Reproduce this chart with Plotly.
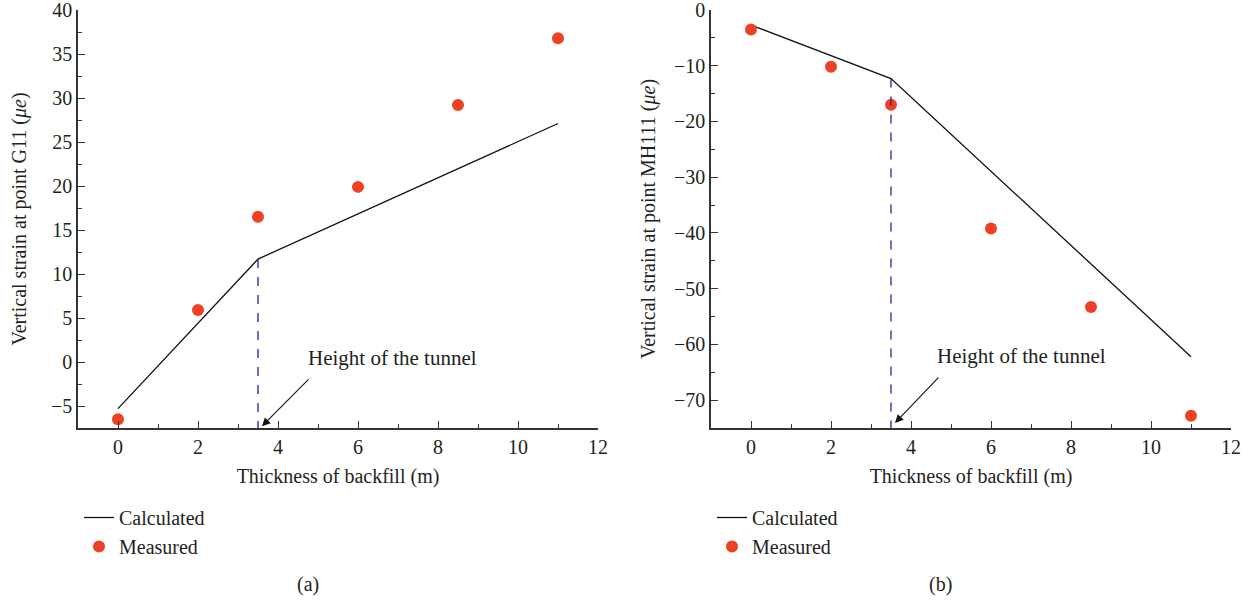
import plotly.graph_objects as go

# ---- data ----
thickness_meas = [0, 2, 3.5, 6, 8.5, 11]
g11_measured = [-6.5, 5.9, 16.5, 19.9, 29.2, 36.8]
thickness_calc = [0, 3.5, 11]
g11_calculated = [-5.3, 11.7, 27.1]

mh111_measured = [-3.5, -10.2, -17.0, -39.2, -53.3, -72.8]
mh111_calculated = [-2.7, -12.3, -62.2]

tunnel_height = 3.5

FONT = "Liberation Serif, Times New Roman, serif"
TXT = "#231f20"
RED = "#EE4124"
BLUE = "#22228f"
FS = 20

fig = go.Figure()

# left panel
fig.add_trace(go.Scatter(x=thickness_calc, y=g11_calculated, mode="lines",
                         line=dict(color="#111111", width=1.3), name="Calculated",
                         xaxis="x", yaxis="y", legend="legend"))
fig.add_trace(go.Scatter(x=thickness_meas, y=g11_measured, mode="markers",
                         marker=dict(color=RED, size=12), name="Measured",
                         xaxis="x", yaxis="y", legend="legend"))
fig.add_trace(go.Scatter(x=[tunnel_height, tunnel_height], y=[g11_calculated[1], -7.5], mode="lines",
                         line=dict(color=BLUE, width=1.3, dash="dash"), showlegend=False,
                         xaxis="x", yaxis="y"))
# right panel
fig.add_trace(go.Scatter(x=thickness_calc, y=mh111_calculated, mode="lines",
                         line=dict(color="#111111", width=1.3), name="Calculated",
                         xaxis="x2", yaxis="y2", legend="legend2"))
fig.add_trace(go.Scatter(x=thickness_meas, y=mh111_measured, mode="markers",
                         marker=dict(color=RED, size=12), name="Measured",
                         xaxis="x2", yaxis="y2", legend="legend2"))
fig.add_trace(go.Scatter(x=[tunnel_height, tunnel_height], y=[mh111_calculated[1], -75], mode="lines",
                         line=dict(color=BLUE, width=1.3, dash="dash"), showlegend=False,
                         xaxis="x2", yaxis="y2"))

ydom = [(602 - 428) / 602, (602 - 10) / 602]
axis_common = dict(showgrid=False, zeroline=False, showline=True, linecolor="#333333", linewidth=1.5,
                   ticks="inside", ticklen=7, tickwidth=1.3, tickcolor="#333333", automargin=False,
                   ticklabeloverflow="allow",
                   tickfont=dict(family=FONT, size=FS, color=TXT),
                   title_font=dict(family=FONT, size=FS, color=TXT))

fig.update_layout(
    width=1252, height=602, margin=dict(l=0, r=0, t=0, b=0, autoexpand=False),
    paper_bgcolor="white", plot_bgcolor="white",
    font=dict(family=FONT, size=FS, color=TXT),
    xaxis=dict(domain=[78 / 1252, 598 / 1252], range=[-1, 12], dtick=2, anchor="y",
               minor=dict(dtick=1, ticks="inside", ticklen=4, tickcolor="#333333"),
               title=dict(text="Thickness of backfill (m)", standoff=12), **axis_common),
    yaxis=dict(domain=ydom, range=[-7.5, 40], dtick=5, anchor="x",
               minor=dict(dtick=2.5, ticks="inside", ticklen=4, tickcolor="#333333"),
               title=dict(text="Vertical strain at point G11 (<i>μe</i>)", standoff=19), **axis_common),
    xaxis2=dict(domain=[711 / 1252, 1231 / 1252], range=[-1, 12], dtick=2, anchor="y2",
                minor=dict(dtick=1, ticks="inside", ticklen=4, tickcolor="#333333"),
                title=dict(text="Thickness of backfill (m)", standoff=12), **axis_common),
    yaxis2=dict(domain=ydom, range=[-75, 0], dtick=10, anchor="x2",
                minor=dict(dtick=5, ticks="inside", ticklen=4, tickcolor="#333333"),
                title=dict(text="Vertical strain at point MH111 (<i>μe</i>)", standoff=13), **axis_common),
    legend=dict(x=79 / 1252, y=(602 - 498) / 602, xanchor="left", yanchor="top",
                bgcolor="rgba(0,0,0,0)", font=dict(family=FONT, size=FS, color=TXT),
                itemwidth=30, tracegroupgap=0),
    legend2=dict(x=712 / 1252, y=(602 - 498) / 602, xanchor="left", yanchor="top",
                 bgcolor="rgba(0,0,0,0)", font=dict(family=FONT, size=FS, color=TXT),
                 itemwidth=30, tracegroupgap=0),
    showlegend=True,
)

annotations = [
    dict(x=6.85, y=0.5, xref="x", yref="y", text="Height of the tunnel", showarrow=False,
         font=dict(family=FONT, size=FS + 1, color=TXT)),
    dict(x=3.6, y=-7.3, xref="x", yref="y", ax=4.8, ay=-1.8, axref="x", ayref="y", text="",
         showarrow=True, arrowhead=2, arrowsize=1.5, arrowwidth=1.1, arrowcolor="#111111"),
    dict(x=6.75, y=-62.1, xref="x2", yref="y2", text="Height of the tunnel", showarrow=False,
         font=dict(family=FONT, size=FS + 1, color=TXT)),
    dict(x=3.6, y=-74.1, xref="x2", yref="y2", ax=4.72, ay=-65.7, axref="x2", ayref="y2", text="",
         showarrow=True, arrowhead=2, arrowsize=1.5, arrowwidth=1.1, arrowcolor="#111111"),
    dict(x=308 / 1252, y=(602 - 584) / 602, xref="paper", yref="paper", text="(a)", showarrow=False,
         xanchor="center", yanchor="middle", font=dict(family=FONT, size=FS, color=TXT)),
    dict(x=940 / 1252, y=(602 - 584) / 602, xref="paper", yref="paper", text="(b)", showarrow=False,
         xanchor="center", yanchor="middle", font=dict(family=FONT, size=FS, color=TXT)),
]
fig.update_layout(annotations=annotations)

fig.write_html("out.html")
